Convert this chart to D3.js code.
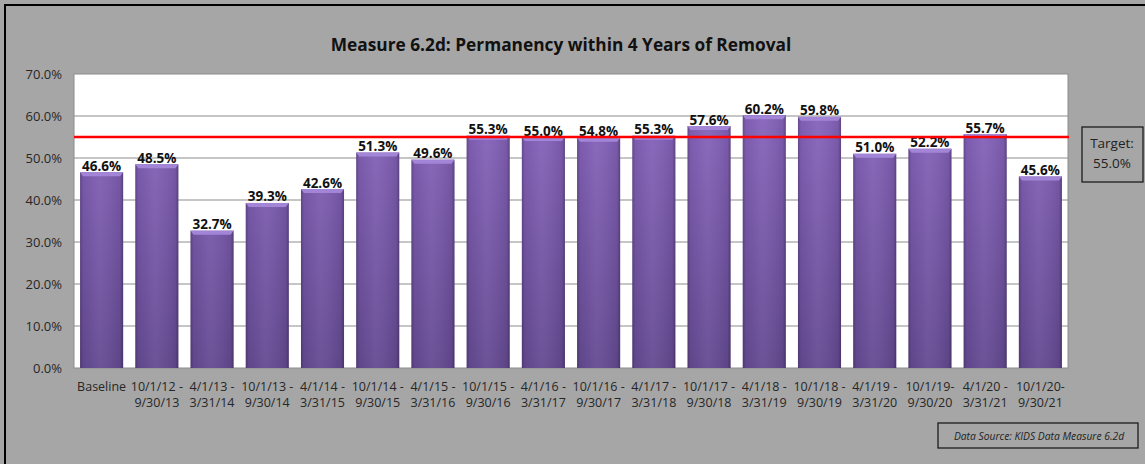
<!DOCTYPE html>
<meta charset="utf-8">
<style>
  body { margin: 0; background: #a6a6a6; }
  text { font-family: "Open Sans", "Liberation Sans", sans-serif; }
</style>
<body>
<svg width="1145" height="464"></svg>
<script src="https://d3js.org/d3.v7.min.js"></script>
<script>
// data
var periods = ["Baseline", "10/1/12 -|9/30/13", "4/1/13 -|3/31/14", "10/1/13 -|9/30/14", "4/1/14 -|3/31/15",
  "10/1/14 -|9/30/15", "4/1/15 -|3/31/16", "10/1/15 -|9/30/16", "4/1/16 -|3/31/17", "10/1/16 -|9/30/17",
  "4/1/17 -|3/31/18", "10/1/17 -|9/30/18", "4/1/18 -|3/31/19", "10/1/18 -|9/30/19", "4/1/19 -|3/31/20",
  "10/1/19-|9/30/20", "4/1/20 -|3/31/21", "10/1/20-|9/30/21"];
var permanency = [46.6, 48.5, 32.7, 39.3, 42.6, 51.3, 49.6, 55.3, 55.0, 54.8, 55.3, 57.6, 60.2, 59.8, 51.0, 52.2, 55.7, 45.6];
var target = 55.0;
var yTicks = [0, 10, 20, 30, 40, 50, 60, 70];

var margin = { top: 74, right: 77, bottom: 96, left: 74 },
    width = 1145, height = 464;

var svg = d3.select("svg");

// outer frame (top and left edges visible)
svg.append("path")
  .attr("d", "M5,464 V5 H1145")
  .attr("fill", "none").attr("stroke", "#000").attr("stroke-width", 2);

var x = d3.scaleBand().domain(d3.range(periods.length))
  .range([margin.left, width - margin.right]).paddingInner(0.22).paddingOuter(0.11);
var y = d3.scaleLinear().domain([0, 70]).range([height - margin.bottom, margin.top]);

// plot area
svg.append("rect")
  .attr("x", margin.left).attr("y", margin.top)
  .attr("width", width - margin.left - margin.right)
  .attr("height", height - margin.top - margin.bottom)
  .attr("fill", "#fff").attr("stroke", "#8c8c8c");

// gridlines
svg.append("g").selectAll("line").data(yTicks.slice(1, -1)).join("line")
  .attr("x1", margin.left).attr("x2", width - margin.right)
  .attr("y1", d => y(d)).attr("y2", d => y(d))
  .attr("stroke", "#8c8c8c");

// y axis labels
var yAxis = d3.axisLeft(y).tickValues(yTicks).tickFormat(d => d.toFixed(1) + "%").tickSize(0).tickPadding(12);
svg.append("g").attr("transform", `translate(${margin.left},0)`).call(yAxis)
  .call(g => g.select(".domain").remove())
  .selectAll("text").attr("font-size", 13).attr("fill", "#262626")
  .attr("font-family", "Open Sans, sans-serif");

// gradients for bevelled bars
var defs = svg.append("defs");
var gv = defs.append("linearGradient").attr("id", "barV")
  .attr("gradientUnits", "userSpaceOnUse")
  .attr("x1", 0).attr("x2", 0).attr("y1", y(60)).attr("y2", y(0));
gv.append("stop").attr("offset", "0%").attr("stop-color", "#8663bb");
gv.append("stop").attr("offset", "100%").attr("stop-color", "#644a92");
var gh = defs.append("linearGradient").attr("id", "barH").attr("x1", 0).attr("x2", 1).attr("y1", 0).attr("y2", 0);
gh.append("stop").attr("offset", "0%").attr("stop-color", "#000").attr("stop-opacity", 0.25);
gh.append("stop").attr("offset", "7%").attr("stop-color", "#000").attr("stop-opacity", 0.05);
gh.append("stop").attr("offset", "45%").attr("stop-color", "#fff").attr("stop-opacity", 0.05);
gh.append("stop").attr("offset", "93%").attr("stop-color", "#000").attr("stop-opacity", 0.08);
gh.append("stop").attr("offset", "100%").attr("stop-color", "#000").attr("stop-opacity", 0.3);

var bars = svg.append("g").selectAll("g").data(permanency).join("g");
bars.append("rect")
  .attr("x", (d, i) => x(i)).attr("y", d => y(d))
  .attr("width", x.bandwidth()).attr("height", d => y(0) - y(d))
  .attr("fill", "url(#barV)");
bars.append("rect")
  .attr("x", (d, i) => x(i)).attr("y", d => y(d))
  .attr("width", x.bandwidth()).attr("height", d => y(0) - y(d))
  .attr("fill", "url(#barH)");
// top bevel
bars.append("path")
  .attr("d", (d, i) => {
    var x0 = x(i), x1 = x0 + x.bandwidth(), t = y(d);
    return `M${x0},${t} H${x1} L${x1 - 3},${t + 4} H${x0 + 3} Z`;
  })
  .attr("fill", "#a385d8");

// value labels
bars.append("text")
  .attr("x", (d, i) => x(i) + x.bandwidth() / 2)
  .attr("y", d => y(d) - 1.5)
  .attr("text-anchor", "middle")
  .attr("font-size", 13.5).attr("font-weight", "bold").attr("fill", "#111")
  .text(d => d.toFixed(1) + "%");

// target line
svg.append("line")
  .attr("x1", margin.left).attr("x2", width - margin.right + 1)
  .attr("y1", y(target)).attr("y2", y(target))
  .attr("stroke", "#ff0000").attr("stroke-width", 2.5);

// x labels
var xl = svg.append("g").selectAll("text").data(periods).join("text")
  .attr("text-anchor", "middle")
  .attr("font-size", 12.5).attr("fill", "#262626")
  .attr("transform", (d, i) => `translate(${x(i) + x.bandwidth() / 2},${height - margin.bottom + 23})`);
xl.each(function (d) {
  var parts = d.split("|");
  d3.select(this).selectAll("tspan").data(parts).join("tspan")
    .attr("x", 0).attr("dy", (p, j) => j ? 16 : 0).text(p => p);
});

// title
svg.append("text")
  .attr("x", 561).attr("y", 51).attr("text-anchor", "middle")
  .attr("font-size", 17.3).attr("font-weight", "bold").attr("fill", "#111")
  .text("Measure 6.2d: Permanency within 4 Years of Removal");

// target box
svg.append("rect").attr("x", 1082).attr("y", 127).attr("width", 61).attr("height", 55)
  .attr("fill", "none").attr("stroke", "#111").attr("stroke-width", 1.2);
svg.append("text").attr("x", 1112).attr("y", 148).attr("text-anchor", "middle")
  .attr("font-size", 13.5).attr("fill", "#222").text("Target:");
svg.append("text").attr("x", 1112).attr("y", 168).attr("text-anchor", "middle")
  .attr("font-size", 13.5).attr("fill", "#222").text(target.toFixed(1) + "%");

// data source box
svg.append("rect").attr("x", 938).attr("y", 423).attr("width", 200).attr("height", 25)
  .attr("fill", "none").attr("stroke", "#111").attr("stroke-width", 1.2);
svg.append("text").attr("x", 1039).attr("y", 440).attr("text-anchor", "middle")
  .attr("font-size", 10.3).attr("font-style", "italic").attr("fill", "#222")
  .text("Data Source: KIDS Data Measure 6.2d");
</script>
</body>
